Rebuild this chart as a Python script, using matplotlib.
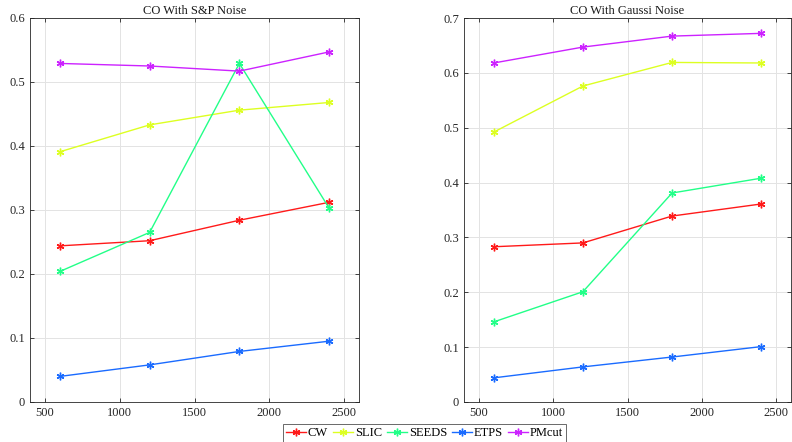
import matplotlib
matplotlib.use('Agg')
import matplotlib.pyplot as plt

plt.rcParams['font.family'] = ['Liberation Serif', 'DejaVu Serif']

# x values (number of superpixels)
x_vals = [600, 1200, 1800, 2400]
methods = ['CW', 'SLIC', 'SEEDS', 'ETPS', 'PMcut']

# CO with salt & pepper noise
sp_cw = [0.244, 0.252, 0.284, 0.312]
sp_slic = [0.391, 0.433, 0.456, 0.468]
sp_seeds = [0.204, 0.265, 0.529, 0.303]
sp_etps = [0.040, 0.058, 0.079, 0.095]
sp_pmcut = [0.529, 0.525, 0.517, 0.547]

# CO with gaussian noise
ga_cw = [0.283, 0.290, 0.339, 0.361]
ga_slic = [0.492, 0.576, 0.619, 0.618]
ga_seeds = [0.146, 0.201, 0.381, 0.408]
ga_etps = [0.044, 0.064, 0.082, 0.101]
ga_pmcut = [0.618, 0.647, 0.667, 0.672]

colors = ['#ff1a1a', '#ddff22', '#22ff88', '#1a6bff', '#cc22ff']

fig = plt.figure(figsize=(7.92, 4.42), dpi=100)
W, H = 792, 442
ax1 = fig.add_axes([30 / W, 40 / H, 329 / W, 384 / H])
ax2 = fig.add_axes([464 / W, 40 / H, 327 / W, 384 / H])


def draw(ax, series, title, ymax):
    lines = []
    for name, ys, c in zip(methods, series, colors):
        ln, = ax.plot(x_vals, ys, color=c, marker=(6, 2, 0), markersize=5.5,
                      markeredgewidth=1.0, linewidth=1.0, label=name)
        lines.append(ln)
    ax.set_xlim(400, 2600)
    ax.set_ylim(0, ymax)
    ax.set_xticks([500, 1000, 1500, 2000, 2500])
    n = int(round(ymax * 10))
    ax.set_yticks([i / 10 for i in range(n + 1)])
    ax.set_yticklabels(['0'] + [f'{i / 10:.1f}' for i in range(1, n + 1)])
    ax.grid(True, color='#e3e3e3', linewidth=0.7)
    ax.set_axisbelow(True)
    ax.tick_params(direction='in', top=True, right=True, length=3,
                   labelsize=9, colors='#262626', width=0.6)
    for s in ax.spines.values():
        s.set_color('#262626')
        s.set_linewidth(0.6)
    ax.set_title(title, fontsize=9, pad=3, color='#1a1a1a')
    return lines


lines = draw(ax1, [sp_cw, sp_slic, sp_seeds, sp_etps, sp_pmcut], 'CO With S&P Noise', 0.6)
draw(ax2, [ga_cw, ga_slic, ga_seeds, ga_etps, ga_pmcut], 'CO With Gaussi Noise', 0.7)

leg = fig.legend(lines, methods, loc='lower center', ncol=5, fontsize=9,
                 bbox_to_anchor=(0.536, 0.0), frameon=True, fancybox=False,
                 handlelength=1.6, handletextpad=0.15, columnspacing=0.4,
                 borderpad=0.25, borderaxespad=0)
leg.get_frame().set_edgecolor('#262626')
leg.get_frame().set_linewidth(0.6)

fig.savefig('out.png', dpi=100)
